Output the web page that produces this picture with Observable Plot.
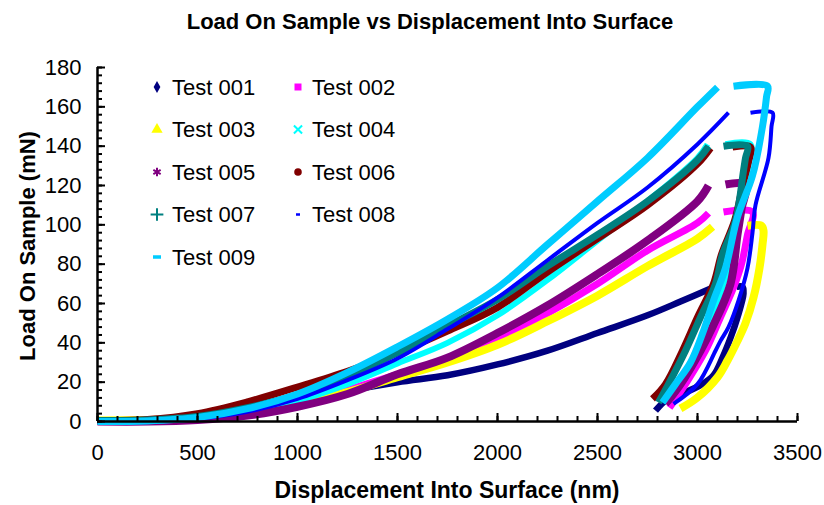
<!DOCTYPE html>
<html><head><meta charset="utf-8">
<script src="https://cdn.jsdelivr.net/npm/d3@7"></script>
<script src="https://cdn.jsdelivr.net/npm/@observablehq/plot@0.6"></script>
<style>
html,body{margin:0;padding:0;background:#fff;}
#chart{position:relative;width:824px;height:505px;}
</style></head><body><div id="chart"></div>
<script>
// ---------- data ----------
const testNames = ["Test 001","Test 002","Test 003","Test 004","Test 005","Test 006","Test 007","Test 008","Test 009"];

const load001 = [[0,0],[250,0.3],[500,1.5],[750,5],[1000,10],[1250,15.5],[1500,20],[1750,23.5],[2000,29],[2250,36],[2500,45],[2750,54],[2915,61],[3075,68]];
const unload001 = [[3195,68.5],[3225,68.5],[3230,65],[3200,53],[3165,42.5],[3125,32.5],[3080,23.5],[3015,18.5],[2930,14.5],[2850,11.5],[2790,5.5]];

const load002 = [[0,0],[250,0.2],[500,1.2],[750,4],[1000,9],[1250,16],[1500,24],[1750,31],[2000,42],[2250,55],[2500,70],[2750,87],[3000,101],[3055,106]];
const unload002 = [[3130,106.5],[3275,106.5],[3250,95],[3220,80],[3180,68],[3115,53],[3040,36],[2940,19],[2860,7]];

const load003 = [[0,0.5],[250,0.8],[500,1.5],[750,4],[1000,8.5],[1250,15],[1500,22.5],[1750,30],[2000,39],[2250,51],[2500,64],[2750,79],[3000,93],[3075,99]];
const unload003 = [[3250,99.5],[3320,99.5],[3330,97],[3325,90],[3310,78],[3280,63],[3240,50],[3200,41],[3150,31],[3100,22.5],[3000,12.2],[2915,6.6]];

const load004 = [[0,0],[250,0.2],[500,1.5],[750,5],[1000,10.5],[1250,19],[1500,29.5],[1750,40],[2000,54],[2250,72],[2500,92],[2750,112],[3000,134],[3050,141]];
const unload004 = [[3140,141],[3265,141],[3250,128],[3215,108],[3175,88],[3130,70],[3070,53],[3000,36],[2905,19],[2825,10]];

const load005 = [[0,0],[250,0],[500,0.8],[750,3],[1000,7.5],[1250,14],[1500,24],[1750,32.5],[2000,45],[2250,59],[2500,75],[2750,92],[3000,112],[3055,120]];
const unload005 = [[3140,120.5],[3240,120.5],[3220,108],[3200,95],[3165,70],[3075,48],[3015,36],[2915,19],[2840,9]];

const load006 = [[0,0.5],[250,1],[500,4],[750,10],[1000,17.5],[1250,25.5],[1500,35],[1750,46],[2000,58],[2250,76],[2500,93],[2750,110],[3000,131],[3065,139]];
const unload006 = [[3175,139.5],[3265,139.5],[3255,132],[3230,122],[3185,102],[3120,85],[3080,70],[3000,53],[2925,36],[2840,19],[2775,11.5]];

const load007 = [[0,0.5],[250,0.8],[500,2.5],[750,7],[1000,13.5],[1250,23],[1500,35],[1750,48.5],[2000,62],[2250,79],[2500,95],[2750,112],[3000,133],[3055,140]];
const unload007 = [[3130,140],[3250,140],[3240,134],[3230,127.5],[3190,102],[3125,85],[3090,70],[3015,53],[2940,36],[2855,19],[2805,9.7]];

const load008 = [[0,0],[250,0.2],[500,1.5],[750,5],[1000,11.5],[1250,21],[1500,32],[1750,47],[2000,63],[2250,82],[2500,101],[2750,119],[3000,141],[3155,157]];
const unload008 = [[3265,157],[3375,157],[3370,150],[3355,134],[3290,110],[3275,96],[3250,78],[3205,61.5],[3155,48],[3115,41],[3090,36],[3000,19],[2880,9]];

const load009 = [[0,0],[250,0.3],[500,2],[750,6.5],[1000,14],[1250,25],[1500,38],[1750,52],[2000,68],[2250,90],[2500,112],[2750,134],[3000,160],[3100,170]];
const unload009 = [[3180,170.5],[3350,170.5],[3345,165],[3325,150],[3275,125],[3200,104],[3140,78],[3080,61.5],[3025,44.7],[2965,30],[2890,19],[2825,9.7]];

const xTickValues = [0,500,1000,1500,2000,2500,3000,3500];
const yTickValues = [0,20,40,60,80,100,120,140,160,180];

// ---------- styles ----------
const loads = [load001,load002,load003,load004,load005,load006,load007,load008,load009];
const unloads = [unload001,unload002,unload003,unload004,unload005,unload006,unload007,unload008,unload009];
const colors = ["#000080","#FF00FF","#FFFF00","#00FFFF","#800080","#800000","#008080","#0000FF","#00CCFF"];
const widths = [6.5,7,8,6,8,7,7,4,7];

const rows = [];
testNames.forEach((name,i)=>{
  loads[i].forEach(([x,y])=>rows.push({name,i,seg:"load",x,y}));
  unloads[i].forEach(([x,y])=>rows.push({name,i,seg:"unload",x,y}));
});

const W=824,H=505,mL=97,mR=27,mT=67,mB=84;
const plotW=W-mL-mR, plotH=H-mT-mB;
const xMinor = d3.range(0,3501,100), yMinor = d3.range(0,181,4);

const marks = [];
testNames.forEach((name,i)=>{
  ["load","unload"].forEach(seg=>{
    marks.push(Plot.line(rows.filter(r=>r.i===i&&r.seg===seg),{x:"x",y:"y",stroke:colors[i],strokeWidth:widths[i],curve:"catmull-rom",strokeLinecap:"butt",strokeLinejoin:"round"}));
  });
});
// axes
marks.push(
  Plot.tickX(xMinor,{x:d=>d,insetTop:plotH-5,stroke:"black",strokeWidth:2}),
  Plot.tickX(xTickValues,{x:d=>d,insetTop:plotH-8,stroke:"black",strokeWidth:2}),
  Plot.tickY(yMinor,{y:d=>d,insetRight:plotW-5,stroke:"black",strokeWidth:2}),
  Plot.tickY(yTickValues,{y:d=>d,insetRight:plotW-8,stroke:"black",strokeWidth:2}),
  Plot.ruleY([0],{stroke:"black",strokeWidth:2.5}),
  Plot.ruleX([0],{stroke:"black",strokeWidth:2.5}),
  Plot.axisX({ticks:xTickValues,tickSize:0,tickPadding:23,tickFormat:d=>String(d),label:null}),
  Plot.axisY({ticks:yTickValues,tickSize:0,tickPadding:16,tickFormat:d=>String(d),label:null})
);

const chart = Plot.plot({
  width:W,height:H,marginLeft:mL,marginRight:mR,marginTop:mT,marginBottom:mB,
  x:{domain:[0,3500]}, y:{domain:[0,180]},
  style:{fontFamily:"'Liberation Sans', Arial, sans-serif",fontSize:"22px",background:"white",color:"black",overflow:"visible"},
  marks
});
document.getElementById("chart").appendChild(chart);

const svg = d3.select(chart);
const font = "'Liberation Sans', Arial, sans-serif";
svg.append("text").attr("x",430).attr("y",29).attr("text-anchor","middle")
  .attr("font-family",font).attr("font-weight","bold").attr("font-size",22)
  .text("Load On Sample vs Displacement Into Surface");
svg.append("text").attr("x",447).attr("y",498).attr("text-anchor","middle")
  .attr("font-family",font).attr("font-weight","bold").attr("font-size",23)
  .text("Displacement Into Surface (nm)");
svg.append("text").attr("transform","translate(35,246) rotate(-90)").attr("text-anchor","middle")
  .attr("font-family",font).attr("font-weight","bold").attr("font-size",22)
  .text("Load On Sample (mN)");

// legend
const symbolTypes = [d3.symbolDiamond,d3.symbolSquare,d3.symbolTriangle,d3.symbolTimes,d3.symbolAsterisk,d3.symbolCircle,d3.symbolPlus,null,null];
const strokeSymbols = [false,false,false,true,true,false,true,false,false];
const symSizes = [40,49,55,45,50,45,55,0,0];
const lg = svg.append("g");
testNames.forEach((name,i)=>{
  const col = i%2, row = Math.floor(i/2);
  const mx = col===0?157:298, tx = col===0?172:312, cy = 87+row*42.5;
  if(symbolTypes[i]){
    const p = lg.append("path").attr("transform",`translate(${mx},${cy})`).attr("d",d3.symbol(symbolTypes[i],symSizes[i])());
    if(strokeSymbols[i]) p.attr("fill","none").attr("stroke",colors[i]).attr("stroke-width",2);
    else p.attr("fill",colors[i]);
  } else {
    const w = i===7?4:8, h = i===7?2.5:3.5;
    lg.append("rect").attr("x",mx-w/2).attr("y",cy-h/2).attr("width",w).attr("height",h).attr("fill",colors[i]);
  }
  lg.append("text").attr("x",tx).attr("y",cy).attr("dy","0.35em").attr("text-anchor","start")
    .attr("font-family",font).attr("font-size",22).text(name);
});
</script></body></html>
